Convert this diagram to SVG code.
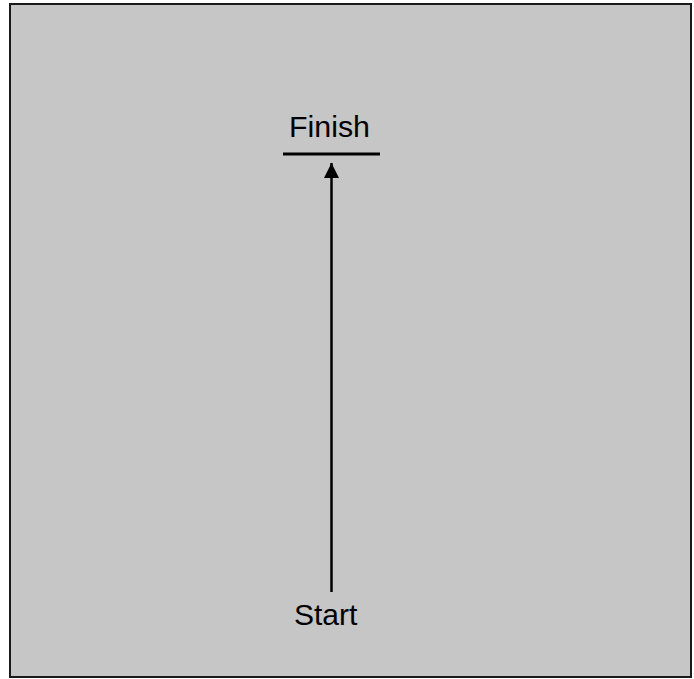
<svg xmlns="http://www.w3.org/2000/svg" width="694" height="679" viewBox="0 0 694 679">
<defs>
<style>
.lbl{font-family:"Liberation Sans",Arial,sans-serif;fill:#000;}
.conn{stroke:#000;stroke-width:2.5;fill:none;}
</style>
<marker id="ah" markerUnits="userSpaceOnUse" markerWidth="16" markerHeight="15" refX="15" refY="7.5" orient="auto">
<path d="M0,0 L15,7.5 L0,15 Z" fill="#000"/>
</marker>
</defs>
<rect x="0" y="0" width="694" height="679" fill="#fff"/>
<rect x="10" y="4" width="681" height="673" fill="#c6c6c6" stroke="#1a1a1a" stroke-width="2"/>
<g id="finish">
<text class="lbl" x="289" y="137" font-size="29" textLength="81" lengthAdjust="spacingAndGlyphs">Finish</text>
<line x1="283" y1="154" x2="380" y2="154" stroke="#000" stroke-width="3"/>
</g>
<g id="start">
<text class="lbl" x="294" y="625" font-size="30">Start</text>
</g>
<g id="connectors">
<line class="conn" x1="331.5" y1="592" x2="331.5" y2="163" marker-end="url(#ah)"/>
</g>
</svg>
